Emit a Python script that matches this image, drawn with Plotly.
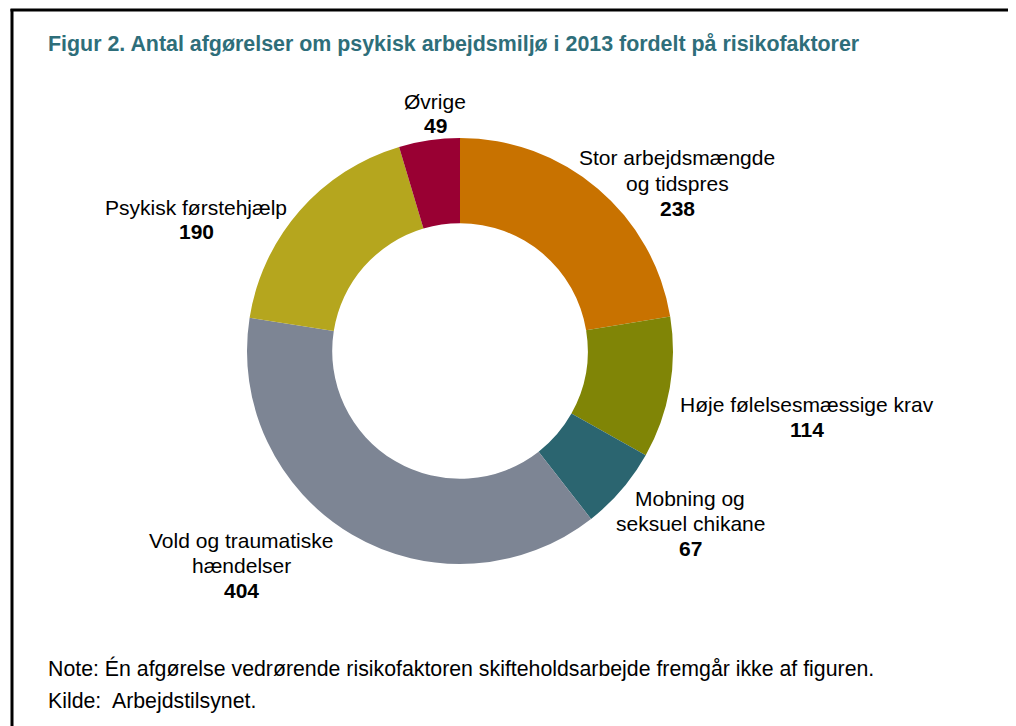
import plotly.graph_objects as go

# page body has an 8px margin; the figure is placed at (8, 8)
OX, OY = 8, 8
W, H = 1016 - OX, 726 - OY

categories = ["Stor arbejdsmængde og tidspres", "Høje følelsesmæssige krav",
              "Mobning og seksuel chikane", "Vold og traumatiske hændelser",
              "Psykisk førstehjælp", "Øvrige"]
label_lines = [["Stor arbejdsmængde", "og tidspres"], ["Høje følelsesmæssige krav"],
               ["Mobning og", "seksuel chikane"], ["Vold og traumatiske", "hændelser"],
               ["Psykisk førstehjælp"], ["Øvrige"]]
values = [238, 114, 67, 404, 190, 49]
colors = ["#C87200", "#808506", "#2B6570", "#7D8594", "#B5A61E", "#990033"]

title_text = "Figur 2. Antal afgørelser om psykisk arbejdsmiljø i 2013 fordelt på risikofaktorer"
note_text = "Note: Én afgørelse vedrørende risikofaktoren skifteholdsarbejde fremgår ikke af figuren."
source_text = "Kilde:  Arbejdstilsynet."


def px(x):
    return (x - OX) / W


def py(y):
    return 1 - (y - OY) / H


cx, cy, r = 460, 351, 213

fig = go.Figure(go.Pie(
    labels=categories, values=values, sort=False, direction="clockwise",
    rotation=0, hole=0.6, textinfo="none", hoverinfo="label+value",
    marker=dict(colors=colors, line=dict(width=0)),
    domain=dict(x=[px(cx - r), px(cx + r)], y=[py(cy + r), py(cy - r)]),
    showlegend=False,
))

# (x centre, y of first line) for each label block; line spacing 25px
label_pos = [(677, 158), (807, 404), (690, 498), (241, 540), (196, 207), (435, 101)]
LS = 25

font = "Liberation Sans, Arial, sans-serif"
annotations = []


def add_text(text, x, y, size=21, color="#000000", xanchor="center"):
    annotations.append(dict(
        text=text, x=px(x), y=py(y), xref="paper", yref="paper",
        xanchor=xanchor, yanchor="middle", showarrow=False, align="center",
        font=dict(family=font, size=size, color=color),
    ))


for lines, v, (x, y) in zip(label_lines, values, label_pos):
    for i, ln in enumerate(lines):
        add_text(ln, x, y + i * LS, size=21)
    add_text(f"<b>{v}</b>", x, y + len(lines) * LS, size=21)

add_text(f"<b>{title_text}</b>", 46, 44, size=21.4, color="#2E6E7A", xanchor="left")
add_text(note_text, 46, 668, size=21.3, xanchor="left")
add_text(source_text, 46, 701, size=21.3, xanchor="left")

shapes = [
    dict(type="line", xref="paper", yref="paper", x0=px(12), x1=px(12), y0=py(9), y1=py(H + OY + 5),
         line=dict(color="#000000", width=3)),
    dict(type="line", xref="paper", yref="paper", x0=px(10.5), x1=px(W + OX + 5), y0=py(10), y1=py(10),
         line=dict(color="#000000", width=3)),
]

fig.update_layout(
    width=W, height=H, margin=dict(l=0, r=0, t=0, b=0),
    paper_bgcolor="#FFFFFF", plot_bgcolor="#FFFFFF",
    annotations=annotations, shapes=shapes,
)

fig.write_html("out.html")
